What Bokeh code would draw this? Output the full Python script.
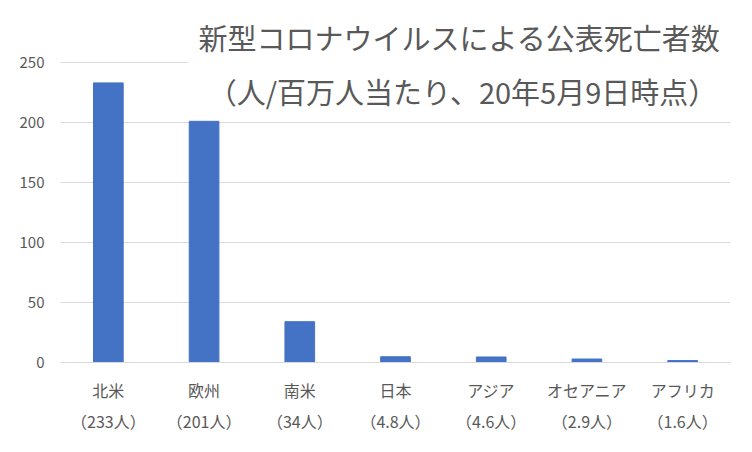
from bokeh.plotting import figure
from bokeh.models import Label, Range1d
from bokeh.embed import file_html
from bokeh.resources import INLINE

regions = ["北米", "欧州", "南米", "日本", "アジア", "オセアニア", "アフリカ"]
values = [233, 201, 34, 4.8, 4.6, 2.9, 1.6]
value_labels = ["（233人）", "（201人）", "（34人）", "（4.8人）", "（4.6人）", "（2.9人）", "（1.6人）"]
cats = [f"{r}\n{v}" for r, v in zip(regions, value_labels)]
y_ticks = [0, 50, 100, 150, 200, 250]
title1 = "新型コロナウイルスによる公表死亡者数"
title2 = "（人/百万人当たり、20年5月9日時点）"

FONT = "Noto Sans CJK JP"

p = figure(x_range=cats, width=736, height=436, output_backend="svg",
           toolbar_location=None, min_border_left=60, min_border_right=6,
           min_border_top=8, min_border_bottom=74)
# frame extends above 250 so the title can sit inside it (same 1.2 px/unit scale)
p.y_range = Range1d(0, 295)
p.vbar(x=cats, top=values, width=0.31, color="#4472C4")

p.outline_line_color = None
p.xgrid.grid_line_color = None
p.ygrid.grid_line_color = "#d9d9d9"
p.ygrid.grid_line_width = 1
p.yaxis.ticker = y_ticks
p.yaxis.axis_line_color = None
p.yaxis.major_tick_line_color = None
p.yaxis.minor_tick_line_color = None
p.yaxis.major_label_text_font = FONT
p.yaxis.major_label_text_font_size = "15px"
p.yaxis.major_label_text_color = "#595959"
p.yaxis.major_label_standoff = 10

p.xaxis.axis_line_color = "#d9d9d9"
p.xaxis.axis_line_width = 1
p.xaxis.major_tick_line_color = None
p.xaxis.minor_tick_line_color = None
p.xaxis.major_label_text_font = FONT
p.xaxis.major_label_text_font_size = "16px"
p.xaxis.major_label_text_color = "#595959"
p.xaxis.major_label_text_line_height = 1.3
p.xaxis.major_label_standoff = 9

p.add_layout(Label(x=464, y=40, x_units="canvas", y_units="canvas", text=title1,
                   text_font=FONT, text_font_size="29px", text_color="#595959",
                   text_align="center", text_baseline="middle",
                   background_fill_color="white", padding=(10, 20, 12, 20)))
p.add_layout(Label(x=462, y=90, x_units="canvas", y_units="canvas", text=title2,
                   text_font=FONT, text_font_size="29px", text_color="#595959",
                   text_align="center", text_baseline="middle"))

open("out.html", "w").write(file_html(p, INLINE))
